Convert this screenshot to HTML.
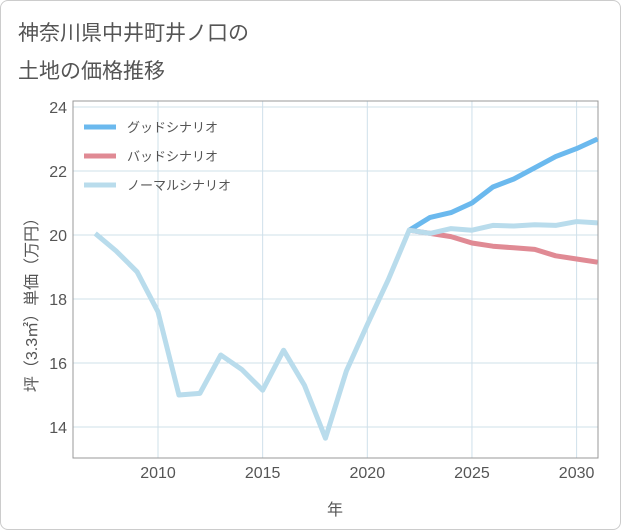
<!DOCTYPE html>
<html><head><meta charset="utf-8"><style>
body{margin:0;background:#fff;font-family:"Liberation Sans","Noto Sans CJK JP",sans-serif}
#wrap{position:relative;width:619px;height:528px;border:1px solid #ccc;border-radius:8px;background:#fff;overflow:hidden}
.t{position:absolute;left:17px;color:#555;font-size:21px}
</style></head><body>
<div id="wrap">
<div class="t" style="top:16px">神奈川県中井町井ノ口の</div>
<div class="t" style="top:54px">土地の価格推移</div>
<svg id="c" width="621" height="530" style="position:absolute;left:0;top:0"></svg>
</div>
<script>
const years=[2007,2008,2009,2010,2011,2012,2013,2014,2015,2016,2017,2018,2019,2020,2021,2022,2023,2024,2025,2026,2027,2028,2029,2030,2031];
const normal=[20.05,19.5,18.85,17.6,15.0,15.05,16.25,15.8,15.15,16.4,15.3,13.65,15.75,17.2,18.6,20.15,20.05,20.2,20.15,20.3,20.28,20.32,20.3,20.42,20.38];
const fYears=[2022,2023,2024,2025,2026,2027,2028,2029,2030,2031];
const good=[20.15,20.55,20.7,21.0,21.5,21.75,22.1,22.45,22.7,23.0];
const bad=[20.15,20.05,19.95,19.75,19.65,19.6,19.55,19.35,19.25,19.15];
const xTicks=[2010,2015,2020,2025,2030];
const yTicks=[14,16,18,20,22,24];
const L=72,R=597,T=100,B=457;
const x=v=>157+(v-2010)*20.93;
const y=v=>106+(24-v)*32;
const svg=document.getElementById('c');const NS='http://www.w3.org/2000/svg';
function mk(t,a,p){const e=document.createElementNS(NS,t);for(const k in a)e.setAttribute(k,a[k]);(p||svg).appendChild(e);return e;}
const grid=mk('g',{});


xTicks.forEach(v=>{mk('line',{x1:x(v),x2:x(v),y1:T,y2:B,stroke:'#cfe0ea'},grid);
const t=mk('text',{x:x(v),y:B+20,'text-anchor':'middle','font-size':16,fill:'#555'});t.textContent=v;

});
yTicks.forEach(v=>{mk('line',{x1:L,x2:R,y1:y(v),y2:y(v),stroke:'#cfe0ea'},grid);
const t=mk('text',{x:L-6,y:y(v)+6,'text-anchor':'end','font-size':16,fill:'#555'});t.textContent=v;

});
const fr=mk('rect',{x:L,y:T,width:R-L,height:B-T,fill:'none',stroke:'#999'});


function line(xs,vs,col,name){const p=mk('polyline',{points:xs.map((v,i)=>x(v)+','+y(vs[i])).join(' '),fill:'none',stroke:col,'stroke-width':5,'stroke-linejoin':'round'});

}
line(fYears,good,'#6bb9ee','good-scenario-line');
line(fYears,bad,'#e08a94','bad-scenario-line');
line(years,normal,'#b9dcec','normal-scenario-line');
const leg=[['グッドシナリオ','#6bb9ee'],['バッドシナリオ','#e08a94'],['ノーマルシナリオ','#b9dcec']];
leg.forEach((l,i)=>{const g=mk('g',{});


mk('line',{x1:83,x2:115,y1:126+i*29,y2:126+i*29,stroke:l[1],'stroke-width':5},g);
const t=mk('text',{x:126,y:131+i*29,'font-size':13,fill:'#555'},g);t.textContent=l[0];});
const xt=mk('text',{x:334,y:514,'text-anchor':'middle','font-size':16,fill:'#555'});xt.textContent='年';


const yt=mk('text',{x:0,y:0,'text-anchor':'middle','font-size':16,fill:'#555',transform:'translate(36,300) rotate(-90)'});yt.textContent='坪（3.3㎡）単価（万円）';


</script>
</body></html>
